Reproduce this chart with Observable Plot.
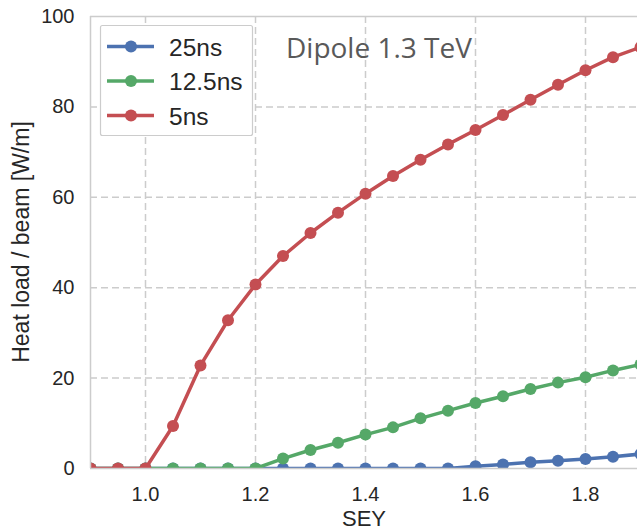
<!DOCTYPE html>
<html>
<head>
<meta charset="utf-8">
<script src="https://cdn.jsdelivr.net/npm/d3@7"></script>
<script src="https://cdn.jsdelivr.net/npm/@observablehq/plot@0.6"></script>
<style>
  html, body { margin: 0; padding: 0; background: #fff; }
  #chart svg { display: block; }
</style>
</head>
<body>
<div id="chart"></div>
<script>
// ---- data ----
const sey = [0.9, 0.95, 1.0, 1.05, 1.1, 1.15, 1.2, 1.25, 1.3, 1.35, 1.4, 1.45, 1.5, 1.55, 1.6, 1.65, 1.7, 1.75, 1.8, 1.85, 1.9];
const heat25ns  = [0, 0, 0, 0, 0, 0, 0, 0, 0, 0, 0, 0, 0, 0, 0.5, 0.9, 1.4, 1.7, 2.1, 2.6, 3.2];
const heat12_5ns = [0, 0, 0, 0, 0, 0, 0, 2.2, 4.1, 5.7, 7.5, 9.1, 11.1, 12.8, 14.5, 16.0, 17.6, 19.0, 20.2, 21.7, 23.0];
const heat5ns   = [0, 0, 0, 9.4, 22.8, 32.8, 40.7, 47.0, 52.1, 56.6, 60.8, 64.7, 68.3, 71.7, 74.9, 78.2, 81.6, 84.9, 88.1, 91.0, 93.2];
const seriesNames = ["25ns", "12.5ns", "5ns"];
const seriesColors = ["#4C72B0", "#55A868", "#C44E52"];
const xTicks = [1.0, 1.2, 1.4, 1.6, 1.8];
const yTicks = [0, 20, 40, 60, 80, 100];
const gridYTicks = [20, 40, 60, 80];
const annotation = "Dipole 1.3 TeV";
const xLabel = "SEY";
const yLabel = "Heat load / beam [W/m]";

const seriesValues = [heat25ns, heat12_5ns, heat5ns];
const rows = seriesValues.map(vals => sey.map((x, i) => ({x, y: vals[i]})));

const W = 637, H = 531;
const ML = 90, MT = 16, MB = 63;

const dataMarks = [];
rows.forEach((r, k) => {
  dataMarks.push(Plot.line(r, {x: "x", y: "y", stroke: seriesColors[k], strokeWidth: 3.5, clip: true}));
  dataMarks.push(Plot.dot(r, {x: "x", y: "y", fill: seriesColors[k], r: 6, clip: true}));
});

const plot = Plot.plot({
  width: W, height: H,
  marginLeft: ML, marginRight: 0, marginTop: MT, marginBottom: MB,
  style: {fontFamily: "'Liberation Sans', Arial, sans-serif", fontSize: "20px", color: "#262626", background: "#fff"},
  x: {domain: [0.9, 1.9], range: [ML, 640]},
  y: {domain: [0, 100]},
  marks: [
    Plot.gridX(xTicks, {stroke: "#cccccc", strokeOpacity: 1, strokeWidth: 1.5, strokeDasharray: "7,4"}),
    Plot.gridY(gridYTicks, {stroke: "#cccccc", strokeOpacity: 1, strokeWidth: 1.5, strokeDasharray: "7,4"}),
    Plot.axisX(xTicks, {tickSize: 0, tickPadding: 18, tickFormat: d => d.toFixed(1), label: null, fontSize: 20}),
    Plot.axisY(yTicks, {tickSize: 0, tickPadding: 16, label: null, fontSize: 20}),
    ...dataMarks,
    Plot.ruleY([0, 100], {stroke: "#cccccc", strokeWidth: 1.5}),
    Plot.ruleX([0.9], {stroke: "#cccccc", strokeWidth: 1.5})
  ]
});
document.getElementById("chart").appendChild(plot);

// ---- extras: axis titles, annotation, legend ----
const svg = d3.select(plot);
const font = "'Liberation Sans', Arial, sans-serif";
svg.append("text")
  .attr("x", 364).attr("y", 525.5)
  .attr("text-anchor", "middle")
  .style("font-family", font)
  .style("font-size", "22px").attr("fill", "#262626")
  .text(xLabel);
svg.append("text")
  .attr("transform", "translate(29,242) rotate(-90)")
  .attr("text-anchor", "middle")
  .style("font-family", font)
  .style("font-size", "23px").attr("fill", "#262626")
  .text(yLabel);
svg.append("text")
  .attr("x", 286).attr("y", 58)
  .attr("text-anchor", "start")
  .style("font-family", "'Open Sans', 'Noto Sans', sans-serif")
  .style("font-size", "28px").attr("fill", "#595959")
  .text(annotation);

const lg = svg.append("g");
lg.append("rect")
  .attr("x", 100.5).attr("y", 25.5).attr("width", 152).attr("height", 110).attr("rx", 2)
  .attr("fill", "#fff").attr("stroke", "#cccccc").attr("stroke-width", 1.2);
seriesNames.forEach((name, k) => {
  const cy = 46.5 + k * 34.5;
  lg.append("line").attr("x1", 107).attr("x2", 154).attr("y1", cy).attr("y2", cy)
    .attr("stroke", seriesColors[k]).attr("stroke-width", 3.5);
  lg.append("circle").attr("cx", 131).attr("cy", cy).attr("r", 6).attr("fill", seriesColors[k]);
  lg.append("text").attr("x", 169).attr("y", cy + 9)
    .attr("text-anchor", "start")
    .style("font-family", font)
    .style("font-size", "24.5px").attr("fill", "#262626")
    .text(name);
});
</script>
</body>
</html>
